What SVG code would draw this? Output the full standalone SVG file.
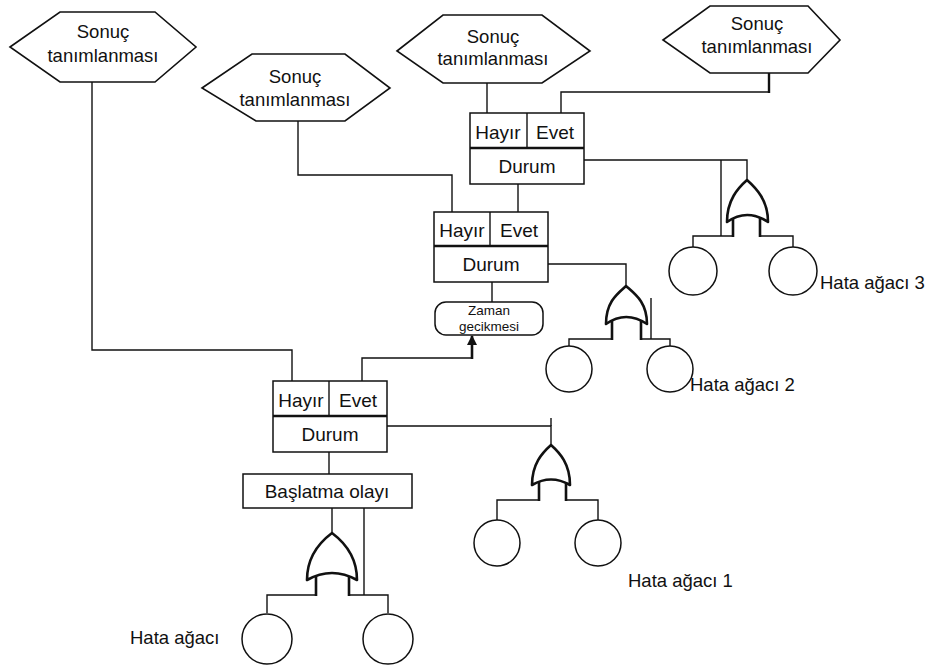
<svg xmlns="http://www.w3.org/2000/svg" width="928" height="665" viewBox="0 0 928 665">
  <style>
    text { font-family: "Liberation Sans", Arial, sans-serif; fill: #111; }
    .hex { fill: #fff; stroke: #111; stroke-width: 1.6; }
    .box { fill: #fff; stroke: #111; stroke-width: 1.5; }
    .thick { stroke: #111; stroke-width: 2.6; fill: none; }
    .gate { fill: #fff; stroke: #111; stroke-width: 2.6; stroke-linejoin: round; }
    .leaf { fill: #fff; stroke: #111; stroke-width: 1.5; }
    .wire { fill: none; stroke: #111; stroke-width: 1.4; }
    .t18 { font-size: 18.5px; text-anchor: middle; }
    .t19 { font-size: 19px; text-anchor: middle; }
    .t17 { font-size: 18.5px; }
    .t14 { font-size: 13.5px; text-anchor: middle; }
  </style>
  <defs>
    <marker id="arrowUp" markerWidth="10" markerHeight="10" refX="9" refY="5" orient="auto" markerUnits="userSpaceOnUse" viewBox="0 0 10 10">
      <path d="M0,0 L10,5 L0,10 Z" fill="#111"/>
    </marker>
  </defs>

  <!-- connectors -->
  <g id="connectors">
    <!-- outcome 1 to state 1 -->
    <polyline class="wire" points="92,82 92,350 292,350 292,381"/>
    <!-- outcome 2 to state 2 -->
    <polyline class="wire" points="298,121 298,175 452,175 452,212"/>
    <!-- outcome 3 to state 3 -->
    <line class="wire" x1="487" y1="83" x2="487" y2="113"/>
    <!-- outcome 4 to state 3 -->
    <polyline class="wire" points="769,92 561,92 561,113"/>
    <line x1="769" y1="73" x2="769" y2="93" stroke="#111" stroke-width="2.4"/>
    <!-- state 3 to state 2 -->
    <line class="wire" x1="518" y1="184" x2="518" y2="212"/>
    <!-- state 2 to delay -->
    <line class="wire" x1="492" y1="282" x2="492" y2="302"/>
    <!-- state 1 yes branch to delay -->
    <polyline class="wire" points="362,381 362,358 472,358"/>
    <line x1="472" y1="359" x2="472" y2="336" stroke="#111" stroke-width="2.6" marker-end="url(#arrowUp)"/>
    <!-- state 1 to initiating event -->
    <line class="wire" x1="329" y1="452" x2="329" y2="474"/>

    <!-- state 3 to fault tree 3 -->
    <polyline class="wire" points="584,160 747,160 747,180"/>
    <line class="wire" x1="721" y1="160" x2="721" y2="236"/>
    <polyline class="wire" points="733,236 693,236 693,247"/>
    <polyline class="wire" points="760,236 793,236 793,247"/>

    <!-- state 2 to fault tree 2 -->
    <polyline class="wire" points="548,264 626,264 626,286"/>
    <line class="wire" x1="651" y1="298" x2="651" y2="339"/>
    <polyline class="wire" points="612,339 569,339 569,346"/>
    <polyline class="wire" points="641,339 670,339 670,346"/>

    <!-- state 1 to fault tree 1 -->
    <polyline class="wire" points="387,426 551,426 551,445"/>
    <line class="wire" x1="551" y1="418" x2="551" y2="426"/>
    <polyline class="wire" points="539,500 497,500 497,520"/>
    <polyline class="wire" points="566,500 598,500 598,520"/>

    <!-- initiating event to its fault tree -->
    <line class="wire" x1="332" y1="508" x2="332" y2="533"/>
    <line class="wire" x1="364" y1="508" x2="364" y2="595"/>
    <polyline class="wire" points="316,595 267,595 267,613"/>
    <polyline class="wire" points="349,595 388,595 388,613"/>
  </g>

  <!-- outcome hexagons -->
  <g id="outcome1">
    <polygon class="hex" points="10,47 60,12 155,12 196,47 155,82 60,82"/>
    <text class="t18" x="103" y="38">Sonuç</text>
    <text class="t18" x="103" y="62">tanımlanması</text>
  </g>
  <g id="outcome2">
    <polygon class="hex" points="202,88 252,54 345,54 390,88 345,121 256,121"/>
    <text class="t18" x="295" y="83">Sonuç</text>
    <text class="t18" x="295" y="106">tanımlanması</text>
  </g>
  <g id="outcome3">
    <polygon class="hex" points="397,51 443,15 542,15 590,51 542,83 443,83"/>
    <text class="t18" x="493" y="43">Sonuç</text>
    <text class="t18" x="493" y="65">tanımlanması</text>
  </g>
  <g id="outcome4">
    <polygon class="hex" points="663,40 710,6 808,6 840,40 808,73 710,73"/>
    <text class="t18" x="757" y="30">Sonuç</text>
    <text class="t18" x="757" y="53">tanımlanması</text>
  </g>

  <!-- state 3 -->
  <g id="state3">
    <rect class="box" x="470" y="113" width="114" height="71"/>
    <line class="wire" x1="527" y1="113" x2="527" y2="148"/>
    <line class="thick" x1="470" y1="148" x2="584" y2="148"/>
    <text class="t19" x="498" y="139">Hayır</text>
    <text class="t19" x="555" y="139">Evet</text>
    <text class="t19" x="527" y="173">Durum</text>
  </g>

  <!-- state 2 -->
  <g id="state2">
    <rect class="box" x="434" y="212" width="114" height="70"/>
    <line class="wire" x1="490" y1="212" x2="490" y2="246"/>
    <line class="thick" x1="434" y1="246" x2="548" y2="246"/>
    <text class="t19" x="462" y="237">Hayır</text>
    <text class="t19" x="519" y="237">Evet</text>
    <text class="t19" x="491" y="271">Durum</text>
  </g>

  <!-- time delay -->
  <g id="delay">
    <rect class="box" x="435" y="302" width="108" height="33" rx="11" ry="11"/>
    <text class="t14" x="489" y="315">Zaman</text>
    <text class="t14" x="489" y="330.5">gecikmesi</text>
  </g>

  <!-- state 1 -->
  <g id="state1">
    <rect class="box" x="273" y="381" width="114" height="71"/>
    <line class="wire" x1="329" y1="381" x2="329" y2="416"/>
    <line class="thick" x1="273" y1="416" x2="387" y2="416"/>
    <text class="t19" x="301" y="407">Hayır</text>
    <text class="t19" x="358" y="407">Evet</text>
    <text class="t19" x="330" y="441">Durum</text>
  </g>

  <!-- initiating event -->
  <g id="initiator">
    <rect class="box" x="243" y="474" width="169" height="34"/>
    <text class="t19" x="327" y="498">Başlatma olayı</text>
  </g>

  <!-- OR gates -->
  <g id="gate3">
    <path class="gate" d="M727,222 C727,200 738,188 747,180 C756,188 768,200 768,222 Q747,208 727,222 Z"/>
    <line class="thick" x1="733" y1="218" x2="733" y2="237"/>
    <line class="thick" x1="760" y1="218" x2="760" y2="237"/>
  </g>
  <g id="gate2">
    <path class="gate" d="M606,324 C606,302 617,294 626,286 C635,294 647,302 647,324 Q626,310 606,324 Z"/>
    <line class="thick" x1="612" y1="320" x2="612" y2="340"/>
    <line class="thick" x1="641" y1="320" x2="641" y2="340"/>
  </g>
  <g id="gate1">
    <path class="gate" d="M532,485 C532,464 542,453 551,445 C560,453 570,464 570,485 Q551,474 532,485 Z"/>
    <line class="thick" x1="539" y1="482" x2="539" y2="501"/>
    <line class="thick" x1="566" y1="482" x2="566" y2="501"/>
  </g>
  <g id="gate0">
    <path class="gate" d="M307,580 C307,556 320,542 332,533 C344,542 357,556 357,580 Q332,566 307,580 Z"/>
    <line class="thick" x1="316" y1="576" x2="316" y2="596"/>
    <line class="thick" x1="349" y1="576" x2="349" y2="596"/>
  </g>

  <!-- fault trees (basic events) -->
  <g id="tree3">
    <circle class="leaf" cx="693" cy="271" r="24"/>
    <circle class="leaf" cx="793" cy="271" r="24"/>
    <text class="t17" x="820" y="289">Hata ağacı 3</text>
  </g>
  <g id="tree2">
    <circle class="leaf" cx="569" cy="369" r="23"/>
    <circle class="leaf" cx="670" cy="369" r="23"/>
    <text class="t17" x="690" y="391">Hata ağacı 2</text>
  </g>
  <g id="tree1">
    <circle class="leaf" cx="497" cy="543" r="23"/>
    <circle class="leaf" cx="598" cy="543" r="23"/>
    <text class="t17" x="628" y="587">Hata ağacı 1</text>
  </g>
  <g id="tree0">
    <circle class="leaf" cx="267" cy="639" r="25"/>
    <circle class="leaf" cx="388" cy="639" r="25"/>
    <text class="t17" x="130" y="644">Hata ağacı</text>
  </g>
</svg>
